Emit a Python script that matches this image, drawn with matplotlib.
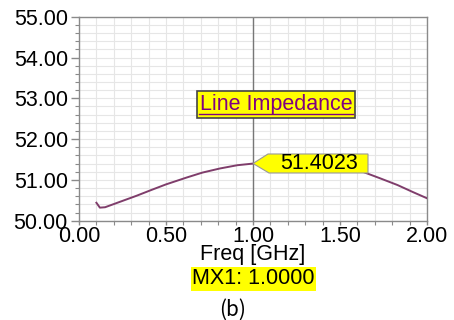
import matplotlib.pyplot as plt
import matplotlib.patches as mpatches
import matplotlib.transforms as mtransforms
from matplotlib.ticker import MultipleLocator
import numpy as np

# line impedance vs frequency
freq = [0.10, 0.12, 0.15, 0.24, 0.33, 0.42, 0.50, 0.62, 0.71, 0.81, 0.91, 1.00,
        1.10, 1.20, 1.30, 1.40, 1.50, 1.57, 1.63, 1.73, 1.83, 1.92, 2.00]
imp = [50.44, 50.32, 50.33, 50.47, 50.61, 50.76, 50.89, 51.06, 51.18, 51.28, 51.36, 51.40,
       51.42, 51.42, 51.40, 51.36, 51.30, 51.26, 51.20, 51.04, 50.875, 50.70, 50.55]
marker_x = 1.0
marker_y = 51.4023
xticks = [0.0, 0.5, 1.0, 1.5, 2.0]
yticks = [50, 51, 52, 53, 54, 55]

plt.rcParams['font.family'] = ['Liberation Sans', 'DejaVu Sans']
W, H = 454, 320
fig = plt.figure(figsize=(W / 100, H / 100), dpi=100)
ax = fig.add_axes([79 / W, 1 - 220.7 / H, 348 / W, 204 / H])

ax.plot(freq, imp, color='#7f3d6b', lw=1.4, zorder=3)
ax.axvline(marker_x, color='#777777', lw=1.0, zorder=2)

ax.set_xlim(0, 2)
ax.set_ylim(50, 55)
ax.set_xticks(xticks)
ax.set_xticklabels(['%.2f' % v for v in xticks])
ax.set_yticks(yticks)
ax.set_yticklabels(['%.2f' % v for v in yticks])
ax.xaxis.set_minor_locator(MultipleLocator(0.1))
ax.yaxis.set_minor_locator(MultipleLocator(0.2))
ax.grid(which='both', color='#e6e6e6', lw=0.8, zorder=0)
ax.set_axisbelow(True)
for s in ax.spines.values():
    s.set_color('#8a8a8a')
    s.set_linewidth(1.0)
ax.tick_params(axis='y', which='major', length=6, width=1, color='#8a8a8a', pad=2, labelsize=15.5)
ax.tick_params(axis='y', which='minor', length=3, width=0.8, color='#8a8a8a')
ax.tick_params(axis='x', which='major', length=3, width=1, color='#8a8a8a', pad=0.5, labelsize=15.5)
ax.tick_params(axis='x', which='minor', length=3, width=0.8, color='#8a8a8a')

# title box
ax.text((276 - 79) / 348, (220.7 - 104.5) / 204, 'Line Impedance', transform=ax.transAxes,
        ha='center', va='center', fontsize=15.5, color='#800080', zorder=5,
        bbox=dict(boxstyle='square,pad=0.12', fc='#ffff00', ec='#444444', lw=1.2))
ax.plot([(198.5 - 79) / 348, (353 - 79) / 348], [(220.7 - 114.0) / 204] * 2,
        transform=ax.transAxes, color='#800080', lw=1.0, zorder=6)

# marker flag, offsets in pixels from the marker point
tip = ax.transData.transform((marker_x, marker_y))
flag = np.array([[0, 0], [15, 9.5], [115, 9.5], [115, -9.5], [16, -9.5]])
off = mtransforms.Affine2D().translate(tip[0], tip[1])
ax.add_patch(mpatches.Polygon(flag, closed=True, fc='#ffff00', ec='#999999', lw=0.8,
                              transform=off, zorder=5, clip_on=False))
ax.text(66, 0, '%.4f' % marker_y, transform=off, ha='center', va='center',
        fontsize=15.5, color='black', zorder=6)

fig.text(253 / W, 1 - 260 / H, 'Freq [GHz]', ha='center', va='baseline', fontsize=15.5)
fig.text(253.3 / W, 1 - 284.5 / H, 'MX1: %.4f' % marker_x, ha='center', va='baseline',
         fontsize=15.5, bbox=dict(boxstyle='square,pad=0.06', fc='#ffff00', ec='none'))
fig.text(233 / W, 1 - 310 / H, '(b)', ha='center', va='center', fontsize=15,
         family=['Noto Sans CJK KR', 'DejaVu Sans'])

fig.savefig('out.png', dpi=100)
